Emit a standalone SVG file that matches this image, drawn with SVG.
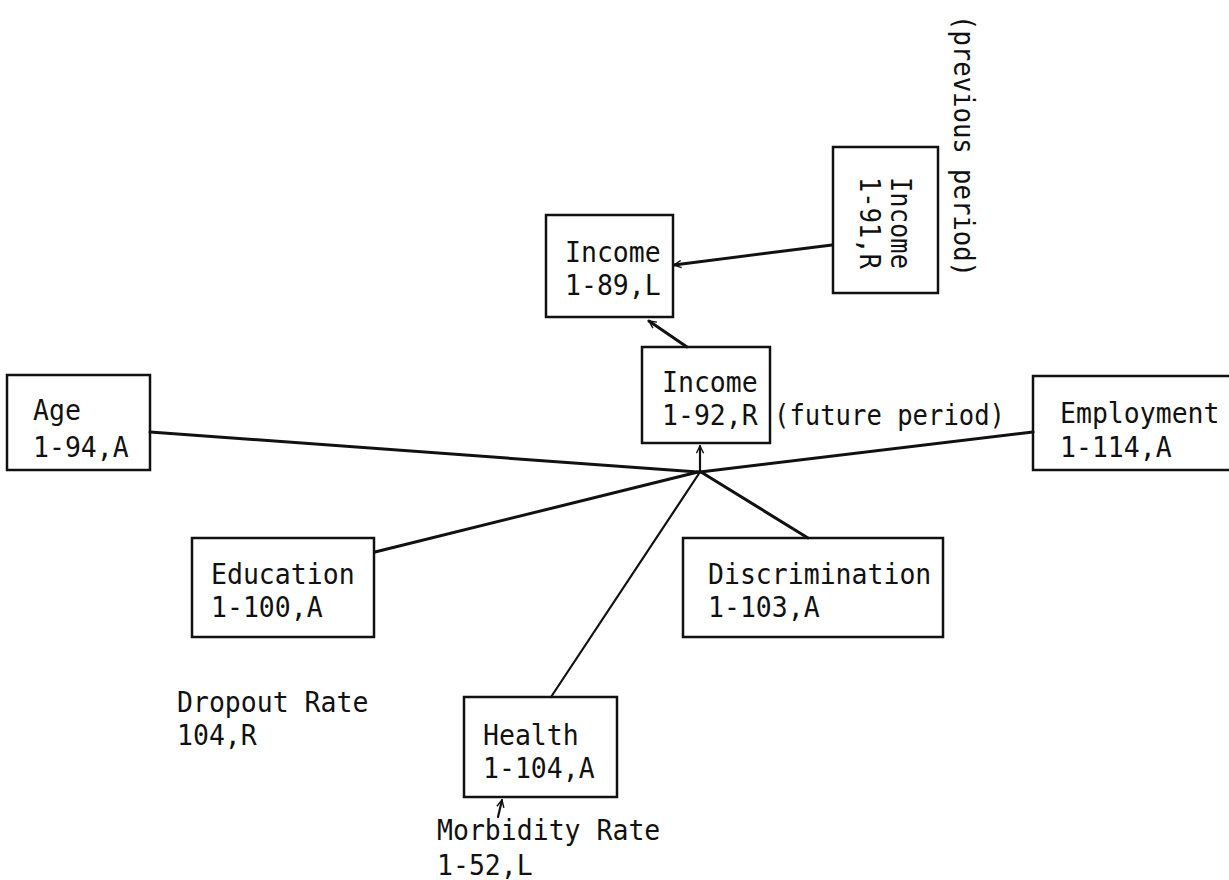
<svg xmlns="http://www.w3.org/2000/svg" width="1229" height="880" viewBox="0 0 1229 880">
<style>
.box{fill:none;stroke:#111;stroke-width:2.5}
.t{font-family:"DejaVu Sans Mono","Liberation Mono",monospace;font-size:28px;fill:#111}
.ln{stroke:#111;stroke-width:3;fill:none;stroke-linecap:round}
.thin{stroke:#111;stroke-width:2.2;fill:none;stroke-linecap:round}
</style>
<defs>
<marker id="arr" viewBox="0 0 10 10" refX="9" refY="5" markerWidth="9" markerHeight="9" markerUnits="userSpaceOnUse" orient="auto">
<path d="M1,1 L9,5 L1,9" fill="none" stroke="#111" stroke-width="1.6"/>
</marker>
</defs>
<rect width="1229" height="880" fill="#fff"/>

<g id="connectors">
<line class="ln" x1="832" y1="245" x2="674" y2="265" marker-end="url(#arr)"/>
<line class="ln" x1="687" y1="347" x2="649" y2="321" marker-end="url(#arr)"/>
<line class="thin" x1="700" y1="472" x2="700" y2="446" marker-end="url(#arr)"/>
<line class="ln" x1="150" y1="432" x2="698" y2="472"/>
<line class="ln" x1="1033" y1="432" x2="700" y2="472"/>
<line class="ln" x1="375" y1="552" x2="698" y2="472"/>
<line class="ln" x1="808" y1="538" x2="701" y2="472"/>
<line class="thin" x1="551" y1="697" x2="700" y2="472"/>
<line class="thin" x1="498" y1="817" x2="502" y2="800" marker-end="url(#arr)"/>
</g>

<g id="income-89">
<rect class="box" x="546" y="215" width="127" height="102"/>
<text class="t" x="565" y="262" textLength="95.7" lengthAdjust="spacingAndGlyphs">Income</text>
<text class="t" x="565" y="295" textLength="95.7" lengthAdjust="spacingAndGlyphs">1-89,L</text>
</g>

<g id="income-91">
<rect class="box" x="833" y="147" width="105" height="146"/>
<text class="t" transform="translate(891,177) rotate(90)" textLength="92" lengthAdjust="spacingAndGlyphs">Income</text>
<text class="t" transform="translate(860,177) rotate(90)" textLength="92" lengthAdjust="spacingAndGlyphs">1-91,R</text>
</g>

<g id="previous-period">
<text class="t" transform="translate(954,15) rotate(90)" textLength="262" lengthAdjust="spacingAndGlyphs">(previous period)</text>
</g>

<g id="income-92">
<rect class="box" x="642" y="347" width="128" height="96"/>
<text class="t" x="662" y="392" textLength="95.7" lengthAdjust="spacingAndGlyphs">Income</text>
<text class="t" x="662" y="425" textLength="95.7" lengthAdjust="spacingAndGlyphs">1-92,R</text>
</g>

<g id="future-period">
<text class="t" x="774" y="425" textLength="231" lengthAdjust="spacingAndGlyphs">(future period)</text>
</g>

<g id="age">
<rect class="box" x="7" y="375" width="143" height="95"/>
<text class="t" x="33" y="420" textLength="47.9" lengthAdjust="spacingAndGlyphs">Age</text>
<text class="t" x="33" y="457" textLength="95.7" lengthAdjust="spacingAndGlyphs">1-94,A</text>
</g>

<g id="employment">
<rect class="box" x="1033" y="376" width="200" height="94"/>
<text class="t" x="1060" y="423" textLength="159.5" lengthAdjust="spacingAndGlyphs">Employment</text>
<text class="t" x="1060" y="457" textLength="111.7" lengthAdjust="spacingAndGlyphs">1-114,A</text>
</g>

<g id="education">
<rect class="box" x="192" y="538" width="182" height="99"/>
<text class="t" x="211" y="584" textLength="143.6" lengthAdjust="spacingAndGlyphs">Education</text>
<text class="t" x="211" y="617" textLength="111.7" lengthAdjust="spacingAndGlyphs">1-100,A</text>
</g>

<g id="discrimination">
<rect class="box" x="683" y="538" width="260" height="99"/>
<text class="t" x="708" y="584" textLength="223.3" lengthAdjust="spacingAndGlyphs">Discrimination</text>
<text class="t" x="708" y="617" textLength="111.7" lengthAdjust="spacingAndGlyphs">1-103,A</text>
</g>

<g id="dropout">
<text class="t" x="177" y="712" textLength="191.4" lengthAdjust="spacingAndGlyphs">Dropout Rate</text>
<text class="t" x="177" y="745" textLength="79.8" lengthAdjust="spacingAndGlyphs">104,R</text>
</g>

<g id="health">
<rect class="box" x="464" y="697" width="153" height="100"/>
<text class="t" x="483" y="745" textLength="95.7" lengthAdjust="spacingAndGlyphs">Health</text>
<text class="t" x="483" y="778" textLength="111.7" lengthAdjust="spacingAndGlyphs">1-104,A</text>
</g>

<g id="morbidity">
<text class="t" x="437" y="840" textLength="223.3" lengthAdjust="spacingAndGlyphs">Morbidity Rate</text>
<text class="t" x="437" y="875" textLength="95.7" lengthAdjust="spacingAndGlyphs">1-52,L</text>
</g>
</svg>
